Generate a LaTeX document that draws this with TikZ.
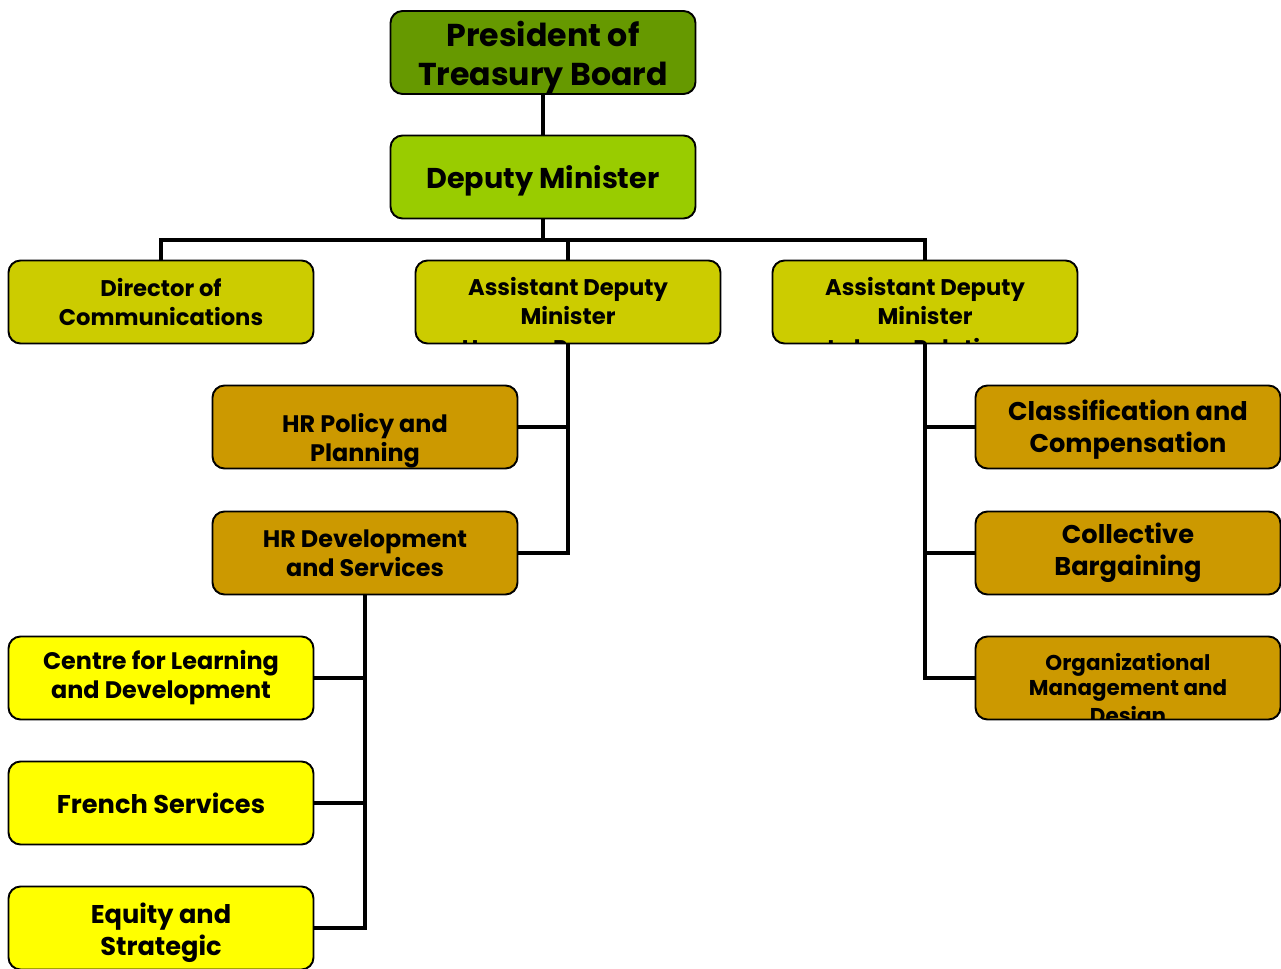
\documentclass[tikz,border=0pt]{standalone}
\usepackage{fontspec}
\setmainfont{Poppins}
\usetikzlibrary{positioning}

\definecolor{presgreen}{HTML}{669900}
\definecolor{dmgreen}{HTML}{99CC00}
\definecolor{admolive}{HTML}{CCCC00}
\definecolor{branchgold}{HTML}{CC9900}
\definecolor{unityellow}{HTML}{FFFF00}

\tikzset{
  unit/.style={draw=black, line width=1.1pt, rounded corners=0.24cm,
    minimum width=6.1cm, minimum height=1.66cm, inner sep=0pt, align=center},
  bigtxt/.style={font=\fontsize{18}{22.2}\selectfont\bfseries},
  dmtxt/.style={font=\fontsize{16.3}{20}\selectfont\bfseries},
  midtxt/.style={font=\fontsize{14.6}{18.2}\selectfont\bfseries},
  normtxt/.style={font=\fontsize{13.6}{16.5}\selectfont\bfseries},
  admtxt/.style={font=\fontsize{12.9}{16.5}\selectfont\bfseries},
  smalltxt/.style={font=\fontsize{12.2}{14.2}\selectfont\bfseries},
  link/.style={line width=2.4pt},
}

\begin{document}
\begin{tikzpicture}
    \useasboundingbox (0,0) rectangle (25.62,-19.38);

    % Top of the chart
    \node[unit, fill=presgreen,
        label={[bigtxt, align=center, yshift=-0.1cm]center:{President of\\Treasury Board}}]
        (pres) at (10.86,-1.05) {};
    \node[unit, fill=dmgreen,
        label={[dmtxt, yshift=-0.08cm]center:Deputy Minister}]
        (dm) at (10.86,-3.54) {};

    % Second level
    \node[unit, admtxt, fill=admolive] (dir) at (3.22,-6.04)
        {Director of\\Communications};
    \node[unit, fill=admolive, path picture={
        \node[admtxt, align=center] at ([yshift=-0.3cm]path picture bounding box.center)
            {Assistant Deputy\\Minister\\[1.5pt]Human Resources};}] (adhr) at (11.36,-6.04) {};
    \node[unit, fill=admolive, path picture={
        \node[admtxt, align=center] at ([yshift=-0.3cm]path picture bounding box.center)
            {Assistant Deputy\\Minister\\[1.5pt]Labour Relations};}] (adlr) at (18.5,-6.04) {};

    % Human Resources branch
    \node[unit, fill=branchgold, path picture={
        \node[normtxt, align=center] at ([yshift=-0.28cm]path picture bounding box.center)
            {HR Policy and\\Planning};}] (pol) at (7.3,-8.54) {};
    \node[unit, normtxt, fill=branchgold] (dev) at (7.3,-11.06)
        {HR Development\\and Services};

    % Labour Relations branch
    \node[unit, fill=branchgold,
        label={[midtxt, align=center, yshift=-0.06cm]center:{Classification and\\Compensation}}]
        (cls) at (22.56,-8.54) {};
    \node[unit, midtxt, fill=branchgold] (col) at (22.56,-11.06)
        {Collective\\Bargaining};
    \node[unit, fill=branchgold, path picture={
        \node[smalltxt, align=center] at ([yshift=-0.27cm]path picture bounding box.center)
            {Organizational\\Management and\\[1.5pt]Design};}] (org) at (22.56,-13.56) {};

    % Units under HR Development
    \node[unit, normtxt, fill=unityellow] (cld) at (3.22,-13.56)
        {Centre for Learning\\and Development};
    \node[unit, midtxt, fill=unityellow] (fr) at (3.22,-16.06) {French Services};
    \node[unit, fill=unityellow,
        label={[midtxt, align=center, yshift=-0.1cm]center:{Equity and\\Strategic}}]
        (eq) at (3.22,-18.56) {};

    % Connectors
    \coordinate (bus) at (10.86,-4.8);
    \draw[link] (pres.south) -- (dm.north);
    \draw[link] (dm.south) -- (bus);
    \draw[link] (bus) -| (dir.north);
    \draw[link] (bus) -| (adhr.north);
    \draw[link] (bus) -| (adlr.north);

    \draw[link] (adhr.south) |- (pol.east);
    \draw[link] (adhr.south) |- (dev.east);

    \draw[link] (adlr.south) |- (cls.west);
    \draw[link] (adlr.south) |- (col.west);
    \draw[link] (adlr.south) |- (org.west);

    \draw[link] (dev.south) |- (cld.east);
    \draw[link] (dev.south) |- (fr.east);
    \draw[link] (dev.south) |- (eq.east);
\end{tikzpicture}
\end{document}
